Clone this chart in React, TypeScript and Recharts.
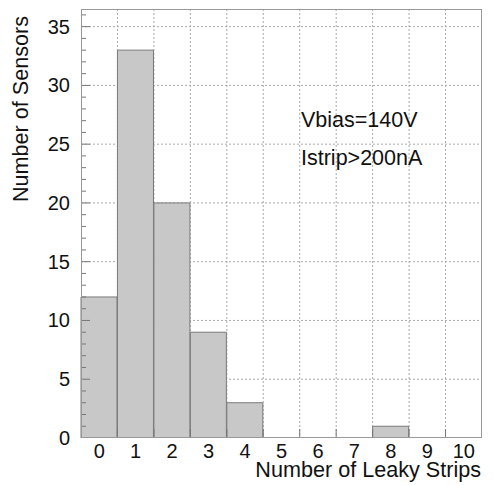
import { ComposedChart, Bar, XAxis, YAxis, CartesianGrid } from 'recharts';

const bins = ['0', '1', '2', '3', '4', '5', '6', '7', '8', '9', '10'];
const counts = [12, 33, 20, 9, 3, 0, 0, 0, 1, 0, 0];
const yTicks = Array.from({ length: 37 }, (_, i) => i);
const yMajor = [5, 10, 15, 20, 25, 30, 35];

const data = bins.map((b, i) => ({ bin: b, count: counts[i] }));

const W = 493;
const H = 485;
const M = { top: 9, right: 11, left: 81, bottom: 47 };
const PLOT_W = W - M.left - M.right;
const PLOT_H = H - M.top - M.bottom;
const BAND = PLOT_W / bins.length;

const FONT = '"Liberation Sans", Arial, sans-serif';
const TEXT = '#111';

function XTick({ x, y, payload, index }: any) {
  return (
    <g>
      {index < bins.length - 1 && (
        <line x1={x + BAND / 2} x2={x + BAND / 2} y1={y} y2={y - 9} stroke="#777" strokeWidth={1} />
      )}
      <text x={x} y={y + 20} textAnchor="middle" fill={TEXT} fontSize={20} fontFamily={FONT}>
        {payload.value}
      </text>
    </g>
  );
}

function YTick({ x, y, payload }: any) {
  const v = payload.value as number;
  const major = v % 5 === 0;
  return (
    <g>
      {v > 0 && <line x1={x} x2={x + (major ? 9 : 5)} y1={y} y2={y} stroke="#777" strokeWidth={1} />}
      {major && (
        <text x={x - 11} y={y + 7} textAnchor="end" fill={TEXT} fontSize={20} fontFamily={FONT}>
          {v}
        </text>
      )}
    </g>
  );
}

export default function App() {
  return (
    <div style={{ position: 'absolute', left: 0, top: 0, width: W, height: H, background: '#fff', fontFamily: FONT }}>
      <ComposedChart width={W} height={H} data={data} margin={{ top: M.top, right: M.right, bottom: 0, left: 0 }} barCategoryGap={0}>
        <XAxis
          dataKey="bin"
          type="category"
          interval={0}
          height={M.bottom}
          tickSize={0}
          tickMargin={0}
          axisLine={false}
          tickLine={false}
          tick={<XTick />}
        />
        <YAxis
          type="number"
          domain={[0, 36.5]}
          ticks={yTicks}
          interval={0}
          width={M.left}
          tickSize={0}
          tickMargin={0}
          axisLine={false}
          tickLine={false}
          tick={<YTick />}
          allowDataOverflow
        />
        <CartesianGrid
          stroke="#aaa"
          strokeDasharray="2 2"
          verticalCoordinatesGenerator={({ offset }: any) =>
            bins.slice(1).map((_, i) => offset.left + (i + 1) * (offset.width / bins.length))
          }
          horizontalValues={yMajor}
        />
        <Bar dataKey="count" fill="#c8c8c8" stroke="#7a7a7a" strokeWidth={1} isAnimationActive={false} />
      </ComposedChart>
      <div
        style={{
          position: 'absolute',
          left: M.left,
          top: M.top,
          width: PLOT_W,
          height: PLOT_H,
          boxSizing: 'border-box',
          border: '1.5px solid #999',
          pointerEvents: 'none',
        }}
      />
      <div style={{ position: 'absolute', left: 301, top: 110, fontSize: 21.5, lineHeight: '21.5px', color: TEXT, whiteSpace: 'nowrap' }}>
        Vbias=140V
      </div>
      <div style={{ position: 'absolute', left: 301, top: 148, fontSize: 21.5, lineHeight: '21.5px', color: TEXT, whiteSpace: 'nowrap' }}>
        Istrip&gt;200nA
      </div>
      <div style={{ position: 'absolute', left: 0, width: 481, top: 464, fontSize: 21.6, lineHeight: '12px', color: TEXT, textAlign: 'right', whiteSpace: 'nowrap' }}>
        Number of Leaky Strips
      </div>
      <div
        style={{
          position: 'absolute',
          left: 21 - 110,
          top: 109 - 11,
          width: 220,
          height: 22,
          fontSize: 21.6,
          lineHeight: '22px',
          color: TEXT,
          textAlign: 'center',
          whiteSpace: 'nowrap',
          transform: 'rotate(-90deg)',
        }}
      >
        Number of Sensors
      </div>
    </div>
  );
}
